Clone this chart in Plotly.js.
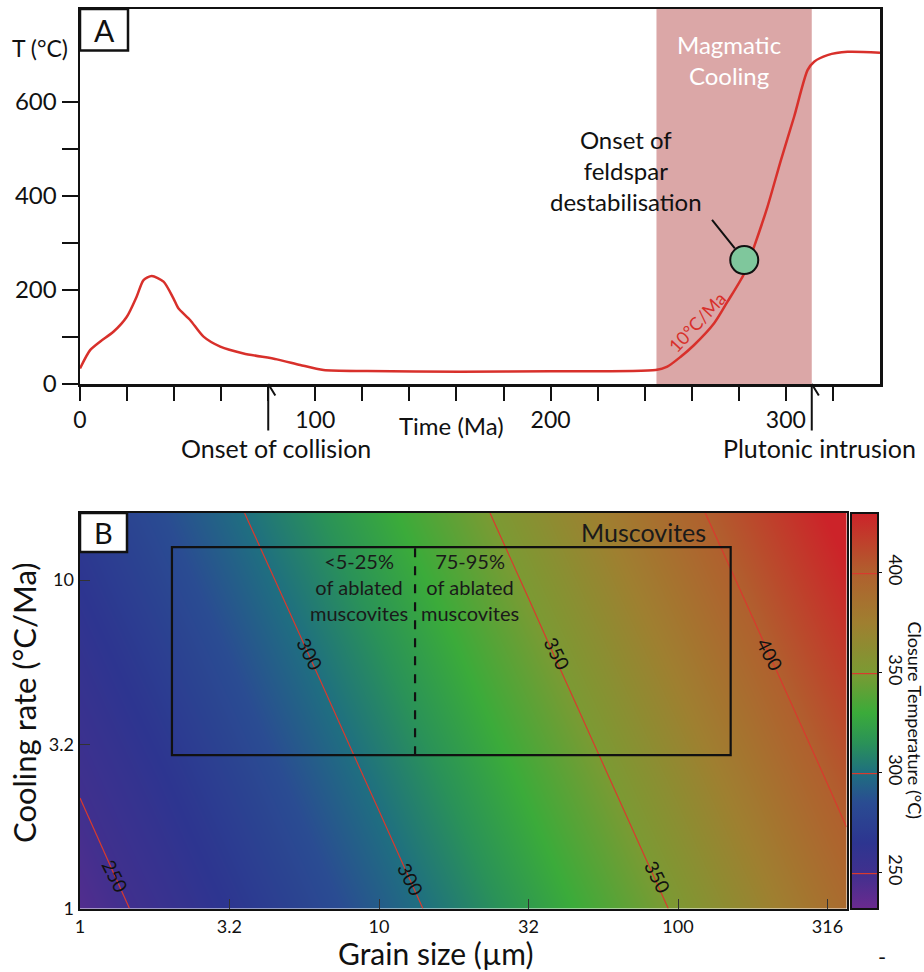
<!DOCTYPE html>
<html>
<head>
<meta charset="utf-8">
<script src="https://cdn.plot.ly/plotly-3.0.1.min.js"></script>
<style>html,body{margin:0;padding:0;background:#fff;}#chart{width:924px;height:972px;}</style>
</head>
<body>
<div id="chart"></div>
<script>
// ---------- Panel A data ----------
const timeMa = [0, 4.3, 8.5, 14.2, 19.9, 24.1, 27, 30.5, 35.5, 39.7, 41.8, 46.8, 52.5, 59.6, 69.5, 83.7, 93.6, 103.5, 122, 161.7, 200, 244.7, 249.6, 255.3, 261, 269.5, 275.2, 282.3, 286.5, 292.2, 297.9, 303.5, 309.2, 312, 317.7, 326.2, 340];
const tempC  = [33, 72, 90, 111, 143, 186, 221, 229.5, 217.5, 182, 161, 136, 100.6, 79.4, 65, 52.4, 40.4, 29.8, 27.6, 26.2, 27, 29.8, 36.9, 58, 82.9, 129, 175, 235, 292, 377, 476, 568, 667, 685, 699, 706, 704];
const magmaticStart = 245, magmaticEnd = 311;
const feldsparTime = [282.3], feldsparTemp = [263.5];
const eventTimes = [80, 311];
const eventLabels = ['Onset of collision', 'Plutonic intrusion'];
const tempTicks = [0, 100, 200, 300, 400, 500, 600];
const tempTickText = ['0', '', '200', '', '400', '', '600'];
const timeTicks = [0, 20, 40, 60, 80, 100, 120, 140, 160, 180, 200, 220, 240, 260, 280, 300, 320];
const timeTickText = ['0', '', '', '', '', '100', '', '', '', '', '200', '', '', '', '', '300', ''];

// ---------- Panel B data ----------
const grainSize = [1, 1.78, 3.16, 5.62, 10, 17.8, 31.6, 56.2, 100, 178, 316, 366];
const coolingRate = [1, 2.51, 6.31, 16];
const closureT = [
  [242.6, 253.8, 265.8, 278.4, 291.8, 305.8, 320.5, 336.0, 352.1, 368.9, 386.4, 391.0],
  [251.4, 263.2, 275.7, 289.0, 302.8, 317.4, 332.7, 348.7, 365.3, 382.7, 400.7, 405.5],
  [260.7, 273.1, 286.1, 299.9, 314.3, 329.5, 345.3, 361.8, 379.0, 396.9, 415.5, 420.4],
  [270.5, 283.5, 297.1, 311.4, 326.4, 342.1, 358.4, 375.5, 393.3, 411.7, 430.9, 435.9]
];
const grainTicks = [1, 3.16, 10, 31.6, 100, 316];
const grainTickText = ['1', '3.2', '10', '32', '100', '316'];
const rateTicks = [1, 3.16, 10];
const rateTickText = ['1', '3.2', '10'];
const colorTicks = [250, 300, 350, 400];
const contourLevels = {start: 250, end: 400, size: 50};
// contour labels: value, grain size and cooling rate where each label sits
const contourLabelText = ['250', '300', '300', '350', '350', '400'];
const contourLabelGrain = [1.31, 5.88, 12.7, 39.5, 85.3, 203];
const contourLabelRate = [1.26, 5.99, 1.23, 5.99, 1.25, 5.92];
const boxGrain = [2.03, 150], boxRate = [2.93, 12.6], splitGrain = 13.2;

// ---------- helpers (layout positions in page pixels) ----------
const W = 924, H = 972;
const px = x => x / W;
const py = y => 1 - y / H;
const L = v => Math.log10(v);
const FONT = 'Lato, "Open Sans", sans-serif';

const traces = [
  {
    type: 'scatter', mode: 'lines', x: timeMa, y: tempC,
    line: {color: '#d8302b', width: 2.5, shape: 'spline', smoothing: 0.7}, xaxis: 'x', yaxis: 'y', hoverinfo: 'skip'
  },
  {
    type: 'scatter', mode: 'markers', x: feldsparTime, y: feldsparTemp,
    marker: {size: 28, color: '#7fc79c', line: {color: '#111', width: 2}},
    xaxis: 'x', yaxis: 'y', cliponaxis: false
  },
  {
    type: 'contour',
    x: grainSize.map(L), y: coolingRate.map(L), z: closureT,
    xaxis: 'x2', yaxis: 'y2',
    zauto: false, zmin: 232, zmax: 430,
    colorscale: [
      [0, '#6b2a8f'], [0.091, '#40308e'], [0.167, '#2d3590'], [0.268, '#2a4c92'],
      [0.343, '#1f6f80'], [0.419, '#2a9258'], [0.495, '#3bab3a'], [0.596, '#7b9a33'],
      [0.722, '#9f7f30'], [0.848, '#b0602e'], [1, '#cc2329']
    ],
    autocontour: false,
    contours: {coloring: 'heatmap', showlabels: false, start: contourLevels.start, end: contourLevels.end, size: contourLevels.size},
    line: {color: '#d83a2e', width: 1.2, smoothing: 0},
    colorbar: {
      x: px(850.5), xanchor: 'left', y: py(908.5), yanchor: 'bottom',
      len: (908.5 - 513) / H, lenmode: 'fraction', thickness: 27, thicknessmode: 'pixels',
      xpad: 0, ypad: 0, outlinewidth: 2, outlinecolor: '#111', borderwidth: 0,
      tickvals: colorTicks, ticks: 'outside', ticklen: 3, tickcolor: '#111', tickangle: 90,
      tickfont: {family: FONT, size: 18, color: '#111'}
    },
    hoverinfo: 'skip'
  }
];

const annotations = [];
const shapes = [];
function txt(x, y, text, size, color, extra) {
  annotations.push(Object.assign({xref: 'paper', yref: 'paper', x: px(x), y: py(y), text: text, showarrow: false,
    xanchor: 'center', yanchor: 'middle', font: {family: FONT, size: size, color: color || '#111'}}, extra || {}));
}

// Panel A decorations
shapes.push({type: 'rect', xref: 'x', yref: 'y domain', x0: magmaticStart, x1: magmaticEnd, y0: 0, y1: 1,
  fillcolor: '#dba7a7', line: {width: 0}, layer: 'below'});
shapes.push({type: 'rect', xref: 'paper', yref: 'paper', x0: px(80), x1: px(128), y0: py(9), y1: py(50.5),
  fillcolor: '#fff', line: {color: '#111', width: 2.5}});
txt(104, 30, 'A', 30);
txt(40, 48, 'T (°C)', 23);
txt(451, 426, 'Time (Ma)', 24);
txt(729, 60, 'Magmatic<br>Cooling', 24, '#fff');
txt(626, 170, 'Onset of<br>feldspar<br>destabilisation', 24);
annotations.push({xref: 'x', yref: 'y', x: 278.3, y: 288.4, ax: -24, ay: -30, text: '', showarrow: true,
  arrowhead: 0, arrowwidth: 2, arrowcolor: '#111', standoff: 0});
txt(697, 322, '10°C/Ma', 18, '#d8302b', {textangle: -47});
eventTimes.forEach((t, i) => {
  annotations.push({xref: 'x', yref: 'y', x: t, y: 0, ax: 0, ay: 48, text: '', showarrow: true,
    arrowhead: 0, arrowwidth: 2, arrowcolor: '#111', standoff: 0});
  annotations.push({xref: 'x', yref: 'y', x: t, y: 0, ax: 8, ay: 13, text: '', showarrow: true,
    arrowhead: 0, arrowwidth: 2, arrowcolor: '#111', standoff: 0});
  annotations.push({xref: 'x', yref: 'paper', x: t, xshift: 8, y: py(448), text: eventLabels[i], showarrow: false,
    xanchor: 'center', yanchor: 'middle', font: {family: FONT, size: 25, color: '#111'}});
});

// Panel B decorations
shapes.push({type: 'rect', xref: 'x2', yref: 'y2', x0: L(boxGrain[0]), x1: L(boxGrain[1]), y0: L(boxRate[0]), y1: L(boxRate[1]),
  line: {color: '#111', width: 2.2}});
shapes.push({type: 'line', xref: 'x2', yref: 'y2', x0: L(splitGrain), x1: L(splitGrain), y0: L(boxRate[0]), y1: L(boxRate[1]),
  line: {color: '#111', width: 2.2, dash: 'dash'}});
shapes.push({type: 'rect', xref: 'paper', yref: 'paper', x0: px(80), x1: px(127), y0: py(513), y1: py(552),
  fillcolor: '#fff', line: {color: '#111', width: 2.5}});
txt(103.5, 532.5, 'B', 29);
txt(643, 532, 'Muscovites', 25, '#1a1a1a');
txt(359, 587, '&lt;5-25%<br>of ablated<br>muscovites', 20, '#1a1a1a');
txt(470, 587, '75-95%<br>of ablated<br>muscovites', 20, '#1a1a1a');
txt(24, 703, 'Cooling rate (°C/Ma)', 31, '#111', {textangle: -90});
txt(436, 953, 'Grain size (µm)', 30);
txt(914.5, 720, 'Closure Temperature (°C)', 18, '#111', {textangle: 90});
txt(882, 956, '-', 22);
contourLabelText.forEach((t, i) => {
  annotations.push({xref: 'x2', yref: 'y2', x: L(contourLabelGrain[i]), y: L(contourLabelRate[i]), text: t,
    showarrow: false, xanchor: 'center', yanchor: 'middle', textangle: 63,
    font: {family: FONT, size: 19, color: '#111'}});
});

const layout = {
  width: W, height: H,
  margin: {l: 0, r: 0, t: 0, b: 0, pad: 0},
  paper_bgcolor: '#fff', plot_bgcolor: '#fff',
  showlegend: false,
  font: {family: FONT, color: '#111'},
  xaxis: {
    domain: [px(80), px(880)], anchor: 'y', range: [0, 340], autorange: false,
    tickmode: 'array', tickvals: timeTicks, ticktext: timeTickText,
    ticks: 'outside', ticklen: 14, tickwidth: 2, tickcolor: '#111',
    showline: true, linewidth: 2.5, linecolor: '#111', mirror: true,
    showgrid: false, zeroline: false, tickfont: {family: FONT, size: 23, color: '#111'}
  },
  yaxis: {
    domain: [py(384), py(9)], anchor: 'x', range: [0, 797], autorange: false,
    tickmode: 'array', tickvals: tempTicks, ticktext: tempTickText,
    ticks: 'outside', ticklen: 16, tickwidth: 2, tickcolor: '#111',
    showline: true, linewidth: 2.5, linecolor: '#111', mirror: true,
    showgrid: false, zeroline: false, tickfont: {family: FONT, size: 24, color: '#111'}
  },
  xaxis2: {
    domain: [px(80), px(846.5)], anchor: 'y2', range: [0, L(366)], autorange: false,
    tickmode: 'array', tickvals: grainTicks.map(L), ticktext: grainTickText,
    ticks: 'inside', ticklen: 10, tickwidth: 1, tickcolor: '#333',
    showline: true, linewidth: 2.5, linecolor: '#111', mirror: true,
    showgrid: false, zeroline: false, tickfont: {family: FONT, size: 18, color: '#111'}
  },
  yaxis2: {
    domain: [py(908.5), py(513)], anchor: 'x2', range: [0, L(16)], autorange: false,
    tickmode: 'array', tickvals: rateTicks.map(L), ticktext: rateTickText,
    ticks: 'inside', ticklen: 10, tickwidth: 1, tickcolor: '#333',
    showline: true, linewidth: 2.5, linecolor: '#111', mirror: true,
    showgrid: false, zeroline: false, tickfont: {family: FONT, size: 18, color: '#111'}
  },
  shapes: shapes,
  annotations: annotations
};

Plotly.newPlot('chart', traces, layout, {staticPlot: true, displayModeBar: false});
</script>
</body>
</html>
